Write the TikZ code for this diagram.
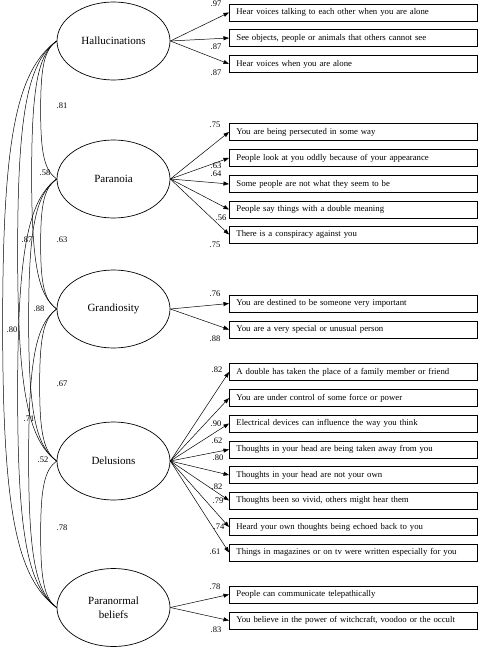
\documentclass[tikz,border=0pt]{standalone}
\usepackage{fontspec}
\setmainfont{Liberation Serif}
\usetikzlibrary{shapes.geometric,arrows.meta,calc}
\newcommand{\corrarc}[4]{\draw[corr] (#1.west) .. controls +({-0.75*#3},{-0.55*#3}) and +(0,#4) .. ($(#1.west)!.5!(#2.west)+(-#3,0)$) .. controls +(0,-#4) and +({-0.75*#3},{0.55*#3}) .. (#2.west);}
\begin{document}
\begin{tikzpicture}[x=1pt,y=1pt,
  factor/.style={draw, ellipse, line width=0.7pt, minimum width=113pt, minimum height=78pt, inner sep=0pt, font=\fontsize{11}{13.5}\selectfont, align=center},
  item/.style={draw, rectangle, line width=0.8pt, anchor=west, minimum height=17pt, inner xsep=7pt, inner ysep=0pt, text width=234pt, align=left, font=\fontsize{8.75}{10}\selectfont},
  load/.style={-{Triangle[length=5.5pt,width=4pt]}, line width=0.5pt},
  corr/.style={line width=0.5pt},
  num/.style={font=\fontsize{8.5}{10}\selectfont, inner sep=0pt}
]
\useasboundingbox (0,0) rectangle (478,-647);

% factors
\node[factor] (H) at (113.5,-41) {Hallucinations};
\node[factor] (P) at (113.5,-179) {Paranoia};
\node[factor] (G) at (113.5,-309) {Grandiosity};
\node[factor] (D) at (113.5,-461) {Delusions};
\node[factor] (B) at (113.5,-607.5) {Paranormal\\beliefs};

% items
\node[item] (h1) at (229,-12.5) {Hear voices talking to each other when you are alone};
\node[item] (h2) at (229,-38) {See objects, people or animals that others cannot see};
\node[item] (h3) at (229,-64) {Hear voices when you are alone};
\node[item] (p1) at (229,-132) {You are being persecuted in some way};
\node[item] (p2) at (229,-158) {People look at you oddly because of your appearance};
\node[item] (p3) at (229,-184) {Some people are not what they seem to be};
\node[item] (p4) at (229,-209.5) {People say things with a double meaning};
\node[item] (p5) at (229,-234.5) {There is a conspiracy against you};
\node[item] (g1) at (229,-303.5) {You are destined to be someone very important};
\node[item] (g2) at (229,-329.5) {You are a very special or unusual person};
\node[item] (d1) at (229,-372) {A double has taken the place of a family member or friend};
\node[item] (d2) at (229,-398) {You are under control of some force or power};
\node[item] (d3) at (229,-423.5) {Electrical devices can influence the way you think};
\node[item] (d4) at (229,-449.5) {Thoughts in your head are being taken away from you};
\node[item] (d5) at (229,-475) {Thoughts in your head are not your own};
\node[item] (d6) at (229,-500.5) {Thoughts been so vivid, others might hear them};
\node[item] (d7) at (229,-527) {Heard your own thoughts being echoed back to you};
\node[item] (d8) at (229,-552.5) {Things in magazines or on tv were written especially for you};
\node[item] (b1) at (229,-594.5) {People can communicate telepathically};
\node[item] (b2) at (229,-620.5) {You believe in the power of witchcraft, voodoo or the occult};

% loadings
\foreach \t in {h1,h2,h3} \draw[load] (H.east) -- (\t.west);
\foreach \t in {p1,p2,p3,p4,p5} \draw[load] (P.east) -- (\t.west);
\foreach \t in {g1,g2} \draw[load] (G.east) -- (\t.west);
\foreach \t in {d1,d2,d3,d4,d5,d6,d7,d8} \draw[load] (D.east) -- (\t.west);
\foreach \t in {b1,b2} \draw[load] (B.east) -- (\t.west);

% loading labels
\node[num] (lh1) at (216,-4) {.97};
\node[num] (lh2) at (216,-47) {.87};
\node[num] (lh3) at (216,-73) {.87};
\node[num] (lp1) at (215,-125) {.75};
\node[num] (lp2) at (216,-166) {.63};
\node[num] (lp3) at (216,-174) {.64};
\node[num] (lp4) at (221,-218) {.56};
\node[num] (lp5) at (215,-245) {.75};
\node[num] (lg1) at (215,-294) {.76};
\node[num] (lg2) at (215,-339) {.88};
\node[num] (ld1) at (217,-370) {.82};
\node[num] (ld3) at (216,-424) {.90};
\node[num] (ld4) at (217,-441) {.62};
\node[num] (ld5) at (218,-458) {.80};
\node[num] (ld6) at (217,-487) {.82};
\node[num] (ld7) at (218,-501) {.79};
\node[num] (ld8) at (219,-527) {.74};
\node[num] (ld9) at (215,-552) {.61};
\node[num] (lb1) at (215,-587) {.78};
\node[num] (lb2) at (216,-630) {.83};

% correlations
\corrarc{H}{P}{16}{45}
\corrarc{P}{G}{16}{42}
\corrarc{G}{D}{17}{49}
\corrarc{D}{B}{16}{47}
\corrarc{H}{G}{25}{87}
\corrarc{P}{D}{28}{92}
\corrarc{G}{B}{28}{97}
\corrarc{H}{D}{39}{136}
\corrarc{P}{B}{39}{139}
\corrarc{H}{B}{54}{184}

% correlation labels
\node[num] (c1) at (62,-106) {.81};
\node[num] (c2) at (45,-173) {.58};
\node[num] (c3) at (27,-240) {.87};
\node[num] (c4) at (62,-240) {.63};
\node[num] (c5) at (39,-309) {.88};
\node[num] (c6) at (12,-330) {.80};
\node[num] (c7) at (62,-384) {.67};
\node[num] (c8) at (29,-419) {.71};
\node[num] (c9) at (43,-460) {.52};
\node[num] (c10) at (62,-528) {.78};
\end{tikzpicture}
\end{document}
